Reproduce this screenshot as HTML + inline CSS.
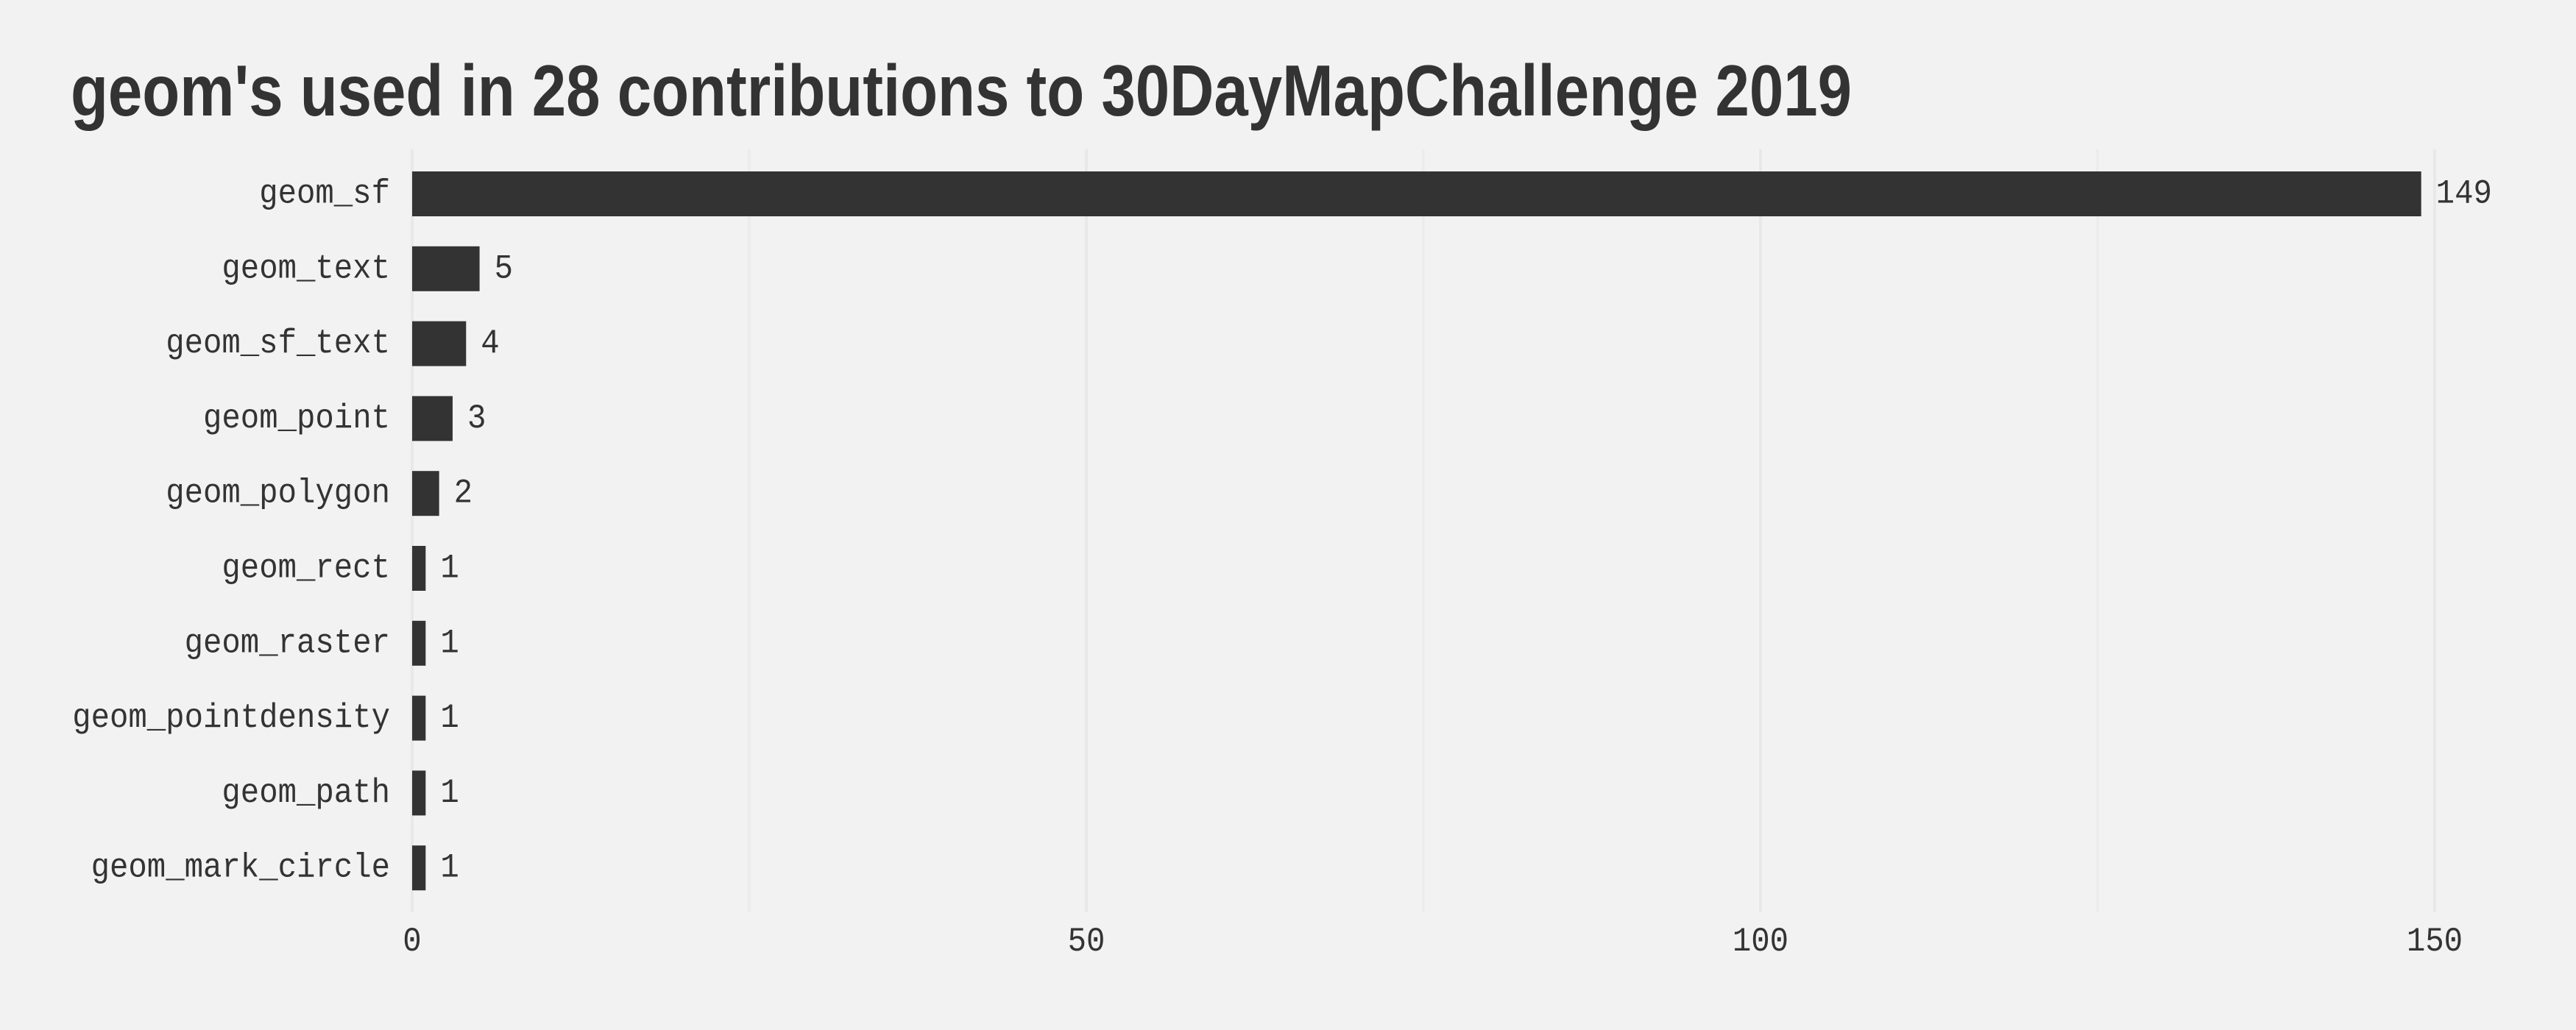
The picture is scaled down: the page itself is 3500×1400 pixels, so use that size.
<!DOCTYPE html>
<html><head><meta charset="utf-8"><style>
html,body{margin:0;padding:0;background:#f2f2f2;}
svg{display:block;}
</style></head><body>
<svg id="chart" width="3500" height="1400" viewBox="0 0 3500 1400" xmlns="http://www.w3.org/2000/svg">
<rect x="0" y="0" width="3500" height="1400" fill="#f2f2f2"/>
<text x="96" y="157" font-family="'Liberation Sans', sans-serif" font-weight="bold" font-size="98" fill="#333333" textLength="2420" lengthAdjust="spacingAndGlyphs">geom's used in 28 contributions to 30DayMapChallenge 2019</text>
<g id="grid"></g>
<g id="bars"></g>
<g id="labels"></g>
</svg>
<script>
const categories = ["geom_sf","geom_text","geom_sf_text","geom_point","geom_polygon","geom_rect","geom_raster","geom_pointdensity","geom_path","geom_mark_circle"];
const counts = [149,5,4,3,2,1,1,1,1,1];
const tickValues = [0,50,100,150];
const tickLabels = ["0","50","100","150"];
const minorTicks = [25,75,125];

const NS = "http://www.w3.org/2000/svg";
const x0 = 560, pxPerUnit = 18.32;
const panelTop = 203, panelBottom = 1240;
const firstCenter = 263.5, pitch = 101.8, barH = 61;
const charW = 25.4;
function xScale(v){ return x0 + v * pxPerUnit; }
function yScale(i){ return firstCenter + i * pitch; }
function mk(tag, attrs){ const e = document.createElementNS(NS, tag); for (const k in attrs) e.setAttribute(k, attrs[k]); return e; }

const grid = document.getElementById('grid');
const bars = document.getElementById('bars');
const labels = document.getElementById('labels');
const fontAttrs = {'dominant-baseline': 'central', 'font-family': "'Liberation Mono', monospace", 'font-size': 46, fill: '#333333', lengthAdjust: 'spacingAndGlyphs'};

minorTicks.forEach(v => {
  const l = mk('line', {x1: xScale(v), x2: xScale(v), y1: panelTop, y2: panelBottom, stroke: '#ebebeb', 'stroke-width': 3});
  
  
  grid.appendChild(l);
});
tickValues.forEach((v, i) => {
  const l = mk('line', {x1: xScale(v), x2: xScale(v), y1: panelTop, y2: panelBottom, stroke: '#e8e8e8', 'stroke-width': 4});
  
  
  grid.appendChild(l);
  const t = mk('text', Object.assign({x: xScale(v), y: 1280, 'text-anchor': 'middle', textLength: tickLabels[i].length * charW}, fontAttrs));
  t.textContent = tickLabels[i];
  
  
  labels.appendChild(t);
});

categories.forEach((c, i) => {
  const cy = yScale(i);
  const r = mk('rect', {x: xScale(0), y: cy - barH/2, width: xScale(counts[i]) - xScale(0), height: barH, fill: '#333333'});
  
  
  bars.appendChild(r);
  const t = mk('text', Object.assign({x: 530, y: cy, 'text-anchor': 'end', textLength: c.length * charW}, fontAttrs));
  t.textContent = c;
  
  
  labels.appendChild(t);
  const s = String(counts[i]);
  const v = mk('text', Object.assign({x: xScale(counts[i]) + 20, y: cy, textLength: s.length * charW}, fontAttrs));
  v.textContent = s;
  
  
  labels.appendChild(v);
});
</script>
</body></html>
